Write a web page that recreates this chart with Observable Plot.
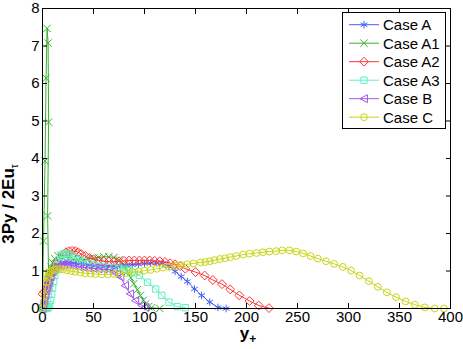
<!DOCTYPE html>
<html><head><meta charset="utf-8">
<script src="https://cdn.jsdelivr.net/npm/d3@7"></script>
<script src="https://cdn.jsdelivr.net/npm/@observablehq/plot@0.6"></script>
<style>
body{margin:0;background:#fff;font-family:"Liberation Sans",Arial,Helvetica,sans-serif}
#wrap{position:relative;width:463px;height:349px}
#legend{position:absolute;left:0;top:0}
</style>
</head><body><div id="wrap"></div>
<script>
const caseNames = ["Case A", "Case A1", "Case A2", "Case A3", "Case B", "Case C"];
const caseColors = ["#4262f2", "#38b030", "#ff3434", "#5ef2c0", "#a452f2", "#c8d614"];
const xTicks = [0, 50, 100, 150, 200, 250, 300, 350, 400];
const yTicks = [0, 1, 2, 3, 4, 5, 6, 7, 8];

const caseA_x = [0, 1, 2, 3, 4, 5, 6, 8, 10, 12, 15, 18, 22, 26, 30, 35, 40, 46, 52, 58, 64, 70, 76, 82, 88, 94, 100, 106, 112, 118, 124, 130, 136, 142, 149, 156, 164, 172, 180];
const caseA_y = [0, 0.12, 0.25, 0.4, 0.55, 0.68, 0.8, 0.95, 1.05, 1.12, 1.18, 1.21, 1.22, 1.22, 1.21, 1.19, 1.17, 1.15, 1.14, 1.13, 1.13, 1.13, 1.14, 1.15, 1.17, 1.18, 1.2, 1.21, 1.22, 1.2, 1.13, 0.99, 0.85, 0.72, 0.52, 0.35, 0.17, 0.03, 0];

const caseA1_x = [0, 1, 2.5, 3.5, 4.5, 5.5, 6, 5, 6, 7, 8.5, 10, 12, 15, 18, 22, 26, 30, 35, 40, 45, 50, 55, 60, 65, 70, 75, 79, 83, 86.5, 89.5, 93, 96, 99, 101, 104, 107, 115];
const caseA1_y = [0, 1.8, 3.93, 6.14, 7.47, 7.08, 4.97, 2.47, 0.9, 0.97, 1.1, 1.22, 1.33, 1.41, 1.42, 1.4, 1.36, 1.32, 1.3, 1.3, 1.32, 1.34, 1.36, 1.38, 1.38, 1.36, 1.3, 1.18, 0.98, 0.82, 0.66, 0.5, 0.35, 0.22, 0.12, 0.05, 0.02, 0];

const caseA2_x = [0, 2, 4, 6, 8, 10, 12, 14, 17, 20, 23, 26, 29, 32, 35, 38, 42, 46, 50, 55, 60, 65, 70, 75, 80, 85, 90, 95, 100, 105, 110, 115, 120, 125, 130, 135, 140, 150, 159, 167, 176, 184, 193, 203, 212, 222];
const caseA2_y = [0.39, 0.45, 0.55, 0.68, 0.82, 0.97, 1.1, 1.22, 1.35, 1.44, 1.5, 1.53, 1.54, 1.53, 1.5, 1.45, 1.4, 1.35, 1.31, 1.28, 1.26, 1.25, 1.25, 1.26, 1.27, 1.28, 1.28, 1.28, 1.28, 1.28, 1.27, 1.26, 1.24, 1.21, 1.18, 1.13, 1.06, 0.97, 0.88, 0.76, 0.65, 0.51, 0.35, 0.2, 0.08, 0.01];

const caseA3_x = [0, 1, 2, 3, 4, 5, 6, 7, 8, 9, 10, 11, 12, 13, 14, 16, 18, 20, 22, 25, 28, 32, 36, 40, 45, 50, 55, 60, 65, 70, 75, 80, 85, 90, 95, 103, 111, 117, 124, 132, 140];
const caseA3_y = [0, 0, 0, 0, 0, 0.01, 0.03, 0.1, 0.22, 0.38, 0.55, 0.72, 0.88, 1.02, 1.15, 1.3, 1.4, 1.45, 1.47, 1.46, 1.42, 1.36, 1.3, 1.25, 1.2, 1.16, 1.13, 1.11, 1.09, 1.08, 1.07, 1.05, 1.01, 0.95, 0.88, 0.7, 0.52, 0.35, 0.17, 0.05, 0.02];

const caseB_x = [0, 1, 2, 3, 4, 5, 6, 8, 10, 12, 15, 18, 21, 25, 30, 35, 40, 45, 50, 55, 60, 65, 70, 73, 76.5, 81, 86, 91, 97.5, 101];
const caseB_y = [0, 0.1, 0.22, 0.35, 0.47, 0.58, 0.68, 0.85, 0.98, 1.07, 1.13, 1.16, 1.17, 1.17, 1.15, 1.12, 1.1, 1.08, 1.07, 1.06, 1.05, 1.04, 1.0, 0.92, 0.84, 0.61, 0.39, 0.21, 0.08, 0.03];

const caseC_x = [0, 1, 2, 3, 4, 5, 6, 7, 8, 10, 12, 14, 17, 20, 24, 28, 32, 37, 42, 47, 52, 58, 64, 70, 76, 82, 88, 94, 100, 106, 112, 118, 124, 130, 136, 142, 148, 155, 159.5, 164, 168.6, 174, 179, 184, 190, 196.7, 203, 209.8, 216, 222.5, 229, 235, 242, 248.7, 255.5, 262.7, 270, 278, 286, 294.4, 302.6, 310.8, 320, 328.8, 337.6, 346.7, 356, 365, 374.8, 384.6, 393.5];
const caseC_y = [0, 0.15, 0.35, 0.55, 0.7, 0.82, 0.9, 0.95, 0.99, 1.02, 1.04, 1.05, 1.05, 1.04, 1.02, 1.0, 0.98, 0.96, 0.94, 0.93, 0.92, 0.91, 0.91, 0.92, 0.93, 0.95, 0.97, 0.99, 1.01, 1.03, 1.06, 1.09, 1.11, 1.14, 1.16, 1.18, 1.2, 1.23, 1.24, 1.26, 1.29, 1.32, 1.34, 1.37, 1.4, 1.44, 1.46, 1.48, 1.5, 1.52, 1.53, 1.55, 1.55, 1.52, 1.47, 1.4, 1.33, 1.26, 1.19, 1.11, 1.01, 0.88, 0.73, 0.58, 0.43, 0.3, 0.19, 0.1, 0.03, 0, 0];

const seriesX = [caseA_x, caseA1_x, caseA2_x, caseA3_x, caseB_x, caseC_x];
const seriesY = [caseA_y, caseA1_y, caseA2_y, caseA3_y, caseB_y, caseC_y];

// left-pointing triangle symbol
const triLeft = {
  draw(ctx, size) {
    const r = Math.sqrt(size / Math.PI) * 1.05;
    ctx.moveTo(-r, 0);
    ctx.lineTo(r * 0.85, -r);
    ctx.lineTo(r * 0.85, r);
    ctx.closePath();
  }
};
const caseSymbols = ["asterisk", "times", "diamond2", "square2", triLeft, "circle"];
const caseR = [3.6, 3.4, 4.0, 4.0, 3.8, 3.4];

const tables = caseNames.map((name, i) => seriesX[i].map((x, j) => ({case: name, x, y: seriesY[i][j]})));

const marks = [];
tables.forEach((t, i) => {
  marks.push(Plot.line(t, {x: "x", y: "y", stroke: caseColors[i], strokeWidth: 1}));
  marks.push(Plot.dot(t, {x: "x", y: "y", stroke: caseColors[i], fill: "none", symbol: caseSymbols[i], r: caseR[i], strokeWidth: 1}));
});

const chart = Plot.plot({
  width: 463, height: 349,
  marginLeft: 42, marginRight: 13, marginTop: 8, marginBottom: 41,
  style: {fontFamily: '"Liberation Sans", Arial, Helvetica, sans-serif', fontSize: "15px", color: "#000", background: "#fff"},
  x: {domain: [0, 400], ticks: xTicks},
  y: {domain: [0, 8], ticks: yTicks},
  marks: [
    ...marks,
    Plot.frame({stroke: "#000", strokeWidth: 1}),
    Plot.axisX({anchor: "bottom", ticks: xTicks, tickSize: 0, tickPadding: 3, label: null, fontSize: 15}),
    Plot.axisY({anchor: "left", ticks: yTicks, tickSize: 0, tickPadding: 3, label: null, fontSize: 15}),
    Plot.axisX({anchor: "bottom", ticks: xTicks, tickSize: -5, text: null, label: null}),
    Plot.axisX({anchor: "top", ticks: xTicks, tickSize: -5, text: null, label: null}),
    Plot.axisY({anchor: "left", ticks: yTicks, tickSize: -5, text: null, label: null}),
    Plot.axisY({anchor: "right", ticks: yTicks, tickSize: -5, text: null, label: null})
  ]
});
document.getElementById("wrap").appendChild(chart);

const svg = d3.select(chart);
// force tick label size
svg.selectAll('g[aria-label="x-axis tick label"], g[aria-label="y-axis tick label"]').attr("font-size", 15).style("font-size", "15px");
// x label
const xl = svg.append("text").attr("x", 248).attr("y", 339).attr("text-anchor", "middle")
  .attr("font-weight", "bold").attr("font-size", 17).attr("fill", "#000");
xl.append("tspan").text("y");
xl.append("tspan").attr("font-size", 12).attr("dy", 4).text("+");
// y label
const yl = svg.append("text").attr("transform", "translate(14,204) rotate(-90)")
  .attr("font-weight", "bold").attr("font-size", 17).attr("fill", "#000");
yl.append("tspan").text("3Py / 2Eu");
yl.append("tspan").attr("font-size", 10).attr("dy", 4).attr("font-weight", "normal").text("τ");

// legend overlay
const lg = d3.select("#wrap").append("svg").attr("id", "legend").attr("width", 463).attr("height", 349);
lg.append("rect").attr("x", 342.5).attr("y", 12.5).attr("width", 103).attr("height", 116)
  .attr("fill", "#fff").attr("stroke", "#000").attr("stroke-width", 1);
caseNames.forEach((name, i) => {
  const cy = 24.7 + i * 18.5;
  lg.append("line").attr("x1", 349).attr("x2", 379).attr("y1", cy).attr("y2", cy)
    .attr("stroke", caseColors[i]).attr("stroke-width", 1);
  const s = caseSymbols[i];
  const type = typeof s === "string" ? {asterisk: d3.symbolAsterisk, times: d3.symbolTimes, diamond2: d3.symbolDiamond2, square2: d3.symbolSquare2, circle: d3.symbolCircle}[s] : s;
  lg.append("path").attr("d", d3.symbol(type, Math.PI * caseR[i] * caseR[i])())
    .attr("transform", `translate(364,${cy})`).attr("fill", "none").attr("stroke", caseColors[i]).attr("stroke-width", 1);
  lg.append("text").attr("x", 383).attr("y", cy + 5.5).attr("font-size", 15).attr("fill", "#000").text(name);
});
</script>
</body></html>
